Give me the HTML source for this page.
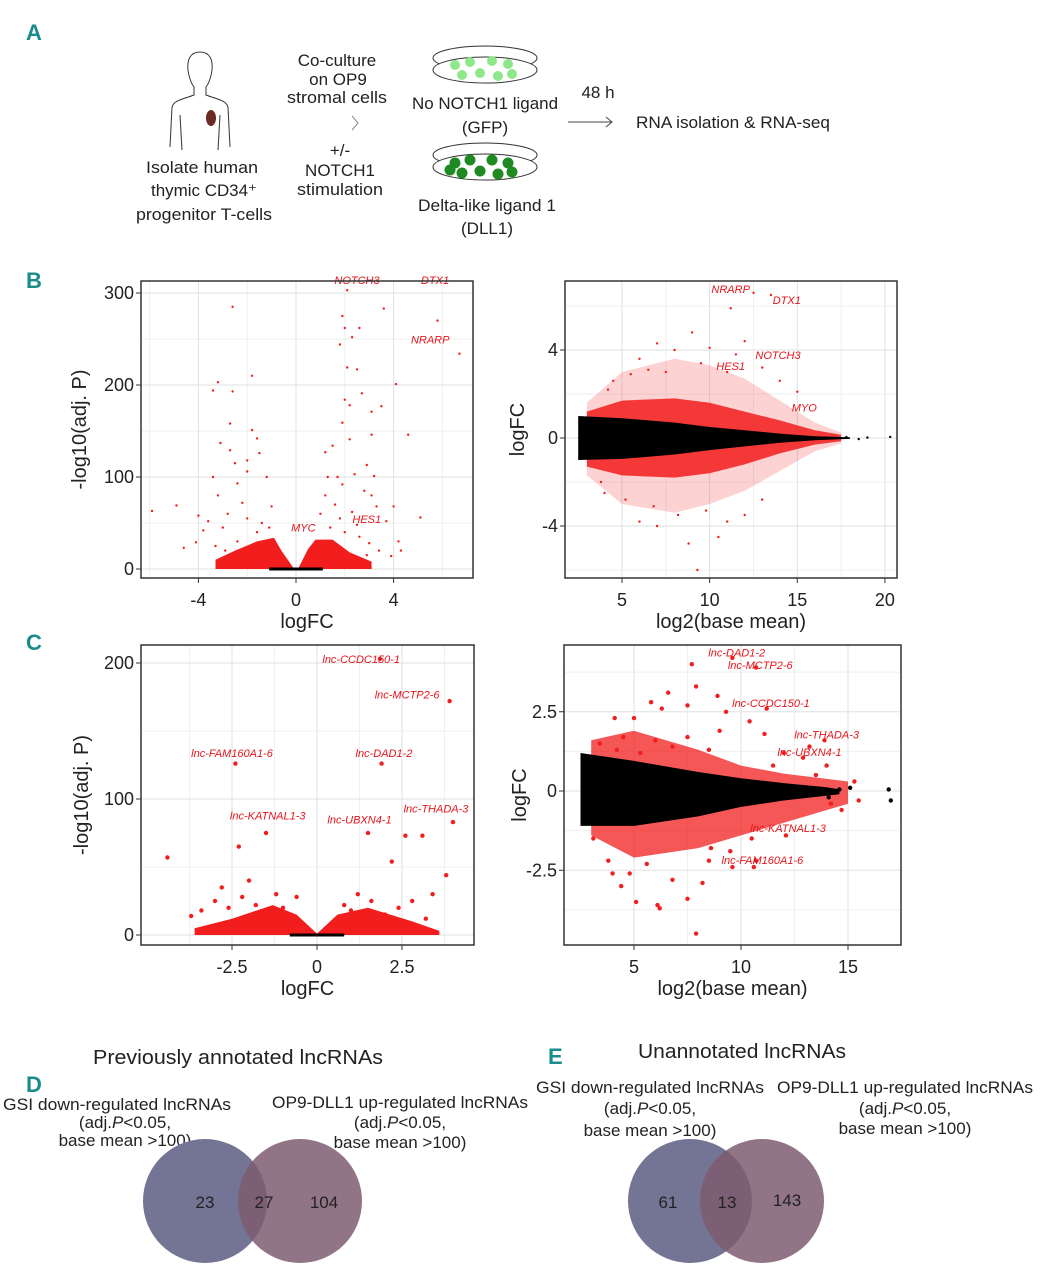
<!DOCTYPE html>
<html><head><meta charset="utf-8">
<style>
body{margin:0;background:#fff;}
svg{display:block;font-family:"Liberation Sans Narrow","Liberation Sans",sans-serif;}
.pl{fill:#1a8c8c;font-weight:bold;font-size:22px;font-family:"Liberation Sans Narrow","Liberation Sans",sans-serif;}
.t{font-size:17px;fill:#222;}
.tk{font-size:18px;fill:#222;}
.ax{font-size:20px;fill:#222;}
.gl{font-size:11px;fill:#e8141c;font-style:italic;}
</style></head>
<body>
<svg id="fig" width="1042" height="1280" viewBox="0 0 1042 1280" xmlns="http://www.w3.org/2000/svg">
<text class="pl" x="26" y="40">A</text>
<text class="pl" x="26" y="288">B</text>
<text class="pl" x="26" y="650">C</text>
<text class="pl" x="26" y="1092">D</text>
<text class="pl" x="548" y="1064">E</text>

<!-- Panel A schematic -->
<g fill="none" stroke="#333" stroke-width="1">
<path d="M200,52 c-10,0 -13,8 -12,18 c1,8 3,13 6,17 l0,8 c-10,4 -20,5 -22,12 l-2,40 M200,52 c10,0 13,8 12,18 c-1,8 -3,13 -6,17 l0,8 c10,4 20,5 22,12 l2,40"/>
<path d="M180,115 l2,35 M220,115 l-2,35"/>
</g>
<ellipse cx="211" cy="118" rx="5" ry="8" fill="#6b2a22"/>
<g class="t" text-anchor="middle">
<text x="202" y="173" textLength="112" lengthAdjust="spacingAndGlyphs">Isolate human</text><text x="204" y="196" textLength="106" lengthAdjust="spacingAndGlyphs">thymic CD34⁺</text><text x="204" y="220" textLength="136" lengthAdjust="spacingAndGlyphs">progenitor T-cells</text></g>
<g class="t" text-anchor="middle">
<text x="337" y="66">Co-culture</text><text x="338" y="85">on OP9</text><text x="337" y="103" textLength="100" lengthAdjust="spacingAndGlyphs">stromal cells</text>
<text x="340" y="156">+/-</text><text x="340" y="176">NOTCH1</text><text x="340" y="195" textLength="86" lengthAdjust="spacingAndGlyphs">stimulation</text></g>
<path d="M352,116 l6,7 l-6,7" fill="none" stroke="#888"/>
<g>
<ellipse cx="485" cy="58" rx="52" ry="12" fill="none" stroke="#333"/>
<ellipse cx="485" cy="70" rx="52" ry="13" fill="#fff" stroke="#333"/>
<g fill="#8ee88a"><circle cx="455" cy="65" r="5"/><circle cx="470" cy="62" r="5"/><circle cx="492" cy="61" r="5"/><circle cx="508" cy="64" r="5"/><circle cx="462" cy="75" r="5"/><circle cx="480" cy="73" r="5"/><circle cx="498" cy="76" r="5"/><circle cx="512" cy="74" r="5"/></g></g>
<g>
<ellipse cx="485" cy="155" rx="52" ry="12" fill="none" stroke="#333"/>
<ellipse cx="485" cy="167" rx="52" ry="13" fill="#fff" stroke="#333"/>
<g fill="#1f8a22"><circle cx="455" cy="163" r="5.5"/><circle cx="470" cy="160" r="5.5"/><circle cx="492" cy="160" r="5.5"/><circle cx="508" cy="163" r="5.5"/><circle cx="462" cy="173" r="5.5"/><circle cx="480" cy="171" r="5.5"/><circle cx="498" cy="174" r="5.5"/><circle cx="512" cy="172" r="5.5"/><circle cx="450" cy="170" r="5.5"/></g></g>
<g class="t" text-anchor="middle">
<text x="485" y="109" textLength="146" lengthAdjust="spacingAndGlyphs">No NOTCH1 ligand</text><text x="485" y="133">(GFP)</text>
<text x="487" y="211" textLength="138" lengthAdjust="spacingAndGlyphs">Delta-like ligand 1</text><text x="487" y="234">(DLL1)</text></g>
<text class="t" x="598" y="98" text-anchor="middle">48 h</text>
<path d="M568,122 h44 m-6,-5 l6,5 l-6,5" fill="none" stroke="#444"/>
<text class="t" x="636" y="128" textLength="194" lengthAdjust="spacingAndGlyphs">RNA isolation &amp; RNA-seq</text>

<g id="plots"></g>

<!-- Venn D -->
<text class="ax" x="238" y="1064" text-anchor="middle" textLength="290" lengthAdjust="spacingAndGlyphs">Previously annotated lncRNAs</text>
<g class="t" text-anchor="middle"><text x="117" y="1110" textLength="228" lengthAdjust="spacingAndGlyphs">GSI down-regulated lncRNAs</text><text x="125" y="1128">(adj.<tspan font-style="italic">P</tspan>&lt;0.05,</text><text x="125" y="1146">base mean &gt;100)</text></g>
<g class="t" text-anchor="middle"><text x="400" y="1108" textLength="256" lengthAdjust="spacingAndGlyphs">OP9-DLL1 up-regulated lncRNAs</text><text x="400" y="1128">(adj.<tspan font-style="italic">P</tspan>&lt;0.05,</text><text x="400" y="1148">base mean &gt;100)</text></g>
<circle cx="205" cy="1201" r="62" fill="#747495"/>
<circle cx="300" cy="1201" r="62" fill="#7e5c70" opacity="0.85"/>
<g class="t" text-anchor="middle"><text x="205" y="1208">23</text><text x="264" y="1208">27</text><text x="324" y="1208">104</text></g>

<!-- Venn E -->
<text class="ax" x="742" y="1058" text-anchor="middle" textLength="208" lengthAdjust="spacingAndGlyphs">Unannotated lncRNAs</text>
<g class="t" text-anchor="middle"><text x="650" y="1093" textLength="228" lengthAdjust="spacingAndGlyphs">GSI down-regulated lncRNAs</text><text x="650" y="1114">(adj.<tspan font-style="italic">P</tspan>&lt;0.05,</text><text x="650" y="1136">base mean &gt;100)</text></g>
<g class="t" text-anchor="middle"><text x="905" y="1093" textLength="256" lengthAdjust="spacingAndGlyphs">OP9-DLL1 up-regulated lncRNAs</text><text x="905" y="1114">(adj.<tspan font-style="italic">P</tspan>&lt;0.05,</text><text x="905" y="1134">base mean &gt;100)</text></g>
<circle cx="690" cy="1201" r="62" fill="#747495"/>
<circle cx="762" cy="1201" r="62" fill="#7e5c70" opacity="0.85"/>
<g class="t" text-anchor="middle"><text x="668" y="1208">61</text><text x="727" y="1208">13</text><text x="787" y="1206">143</text></g>
</svg>
<script>
// ---- Panel B left (volcano, all genes)
const bvDotsUp = [[2.1,303],[3.6,283],[5.8,270],[6.7,234],[1.9,275],[2.0,262],[2.6,262],[2.3,252],[1.8,244],[2.1,219],[2.5,217],[2.7,191],[4.1,201],[2.0,184],[2.2,178],[3.5,177],[3.1,171],[1.9,159],[4.6,146],[3.1,146],[2.2,141],[1.5,134],[1.2,127],[2.9,113],[3.2,101],[1.3,100],[1.7,100],[2.4,103],[5.1,56],[4.0,68],[4.2,30],[3.9,14],[4.3,20],[2.8,85],[3.1,80],[1.9,92],[1.6,70],[2.3,62],[3.3,68],[3.7,52],[1.0,60],[1.4,45],[2.0,40],[2.6,35],[3.0,28],[1.2,80],[2.5,48],[1.8,55],[3.4,20],[2.9,15]];
const bvDotsDown = [[-5.9,63],[-4.9,69],[-4.0,58],[-4.6,23],[-4.1,29],[-2.6,285],[-3.2,203],[-3.4,194],[-1.8,210],[-2.6,193],[-2.7,158],[-1.8,151],[-3.1,137],[-1.6,142],[-2.7,129],[-1.5,126],[-2.5,115],[-2.0,118],[-2.0,106],[-3.4,100],[-1.2,100],[-3.2,80],[-2.4,93],[-1.0,68],[-3.6,52],[-3.0,45],[-2.2,72],[-1.4,50],[-3.8,42],[-2.8,60],[-1.6,40],[-2.4,30],[-3.3,25],[-1.1,45],[-2.0,55],[-2.9,20]];
const bvCloud = [[-3.3,0],[-3.3,10],[-2.5,20],[-1.6,30],[-0.9,34],[-0.6,20],[-0.1,1],[0.1,1],[0.5,22],[0.8,32],[1.5,32],[2.2,18],[3.1,8],[3.1,0]];
const bvBlack = [[-1.1,0],[1.1,0]];
const bvLabels = ["NOTCH3","DTX1","NRARP","HES1","MYC"];
const bvLabelPos = [[2.5,310],[5.7,310],[5.5,245],[2.9,50],[0.3,41]];
// ---- Panel B right (MA, all genes)
const bmRedOuter = [[3,1.6],[5,3.0],[8,3.6],[10,3.3],[12,2.7],[14,1.7],[16,0.7],[17.5,0.25],[17.5,-0.25],[16,-0.6],[14,-1.5],[12,-2.4],[10,-3.0],[8,-3.4],[5,-3.0],[3,-1.7]];
const bmRedInner = [[3,1.2],[5,1.7],[8,1.8],[10,1.6],[12,1.2],[14,0.8],[16,0.35],[17.5,0.15],[17.5,-0.15],[16,-0.3],[14,-0.7],[12,-1.2],[10,-1.6],[8,-1.8],[5,-1.7],[3,-1.3]];
const bmBlack = [[2.5,1.0],[5,0.9],[8,0.7],[10,0.5],[12,0.35],[14,0.2],[16,0.08],[18,0.03],[18,-0.04],[16,-0.1],[14,-0.22],[12,-0.38],[10,-0.55],[8,-0.75],[5,-0.95],[2.5,-1.0]];
const bmDots = [[12.5,6.6],[13.5,6.5],[11.2,5.9],[9,4.8],[7,4.3],[13,3.2],[11.5,3.8],[14,2.6],[10,4.1],[8,4.0],[6,3.6],[12,4.4],[15,2.1],[8.8,-4.8],[10.5,-4.5],[9.3,-6.0],[6,-3.8],[12,-3.5],[7,-4.0],[11,-3.8],[13,-2.8],[4,-2.5],[4.5,2.6],[5.5,2.9],[6.5,3.1],[9.5,3.4],[7.5,3.0],[4.2,2.2],[11,3.0],[6.8,-3.1],[8.2,-3.5],[5.2,-2.8],[9.8,-3.3],[3.8,-2.0]];
const bmBlackDots = [[19,0.02],[20.3,0.05],[18.5,-0.05],[17.8,0.04]];
const bmLabels = ["NRARP","DTX1","NOTCH3","HES1","MYO"];
const bmLabelPos = [[11.2,6.6],[14.4,6.1],[13.9,3.6],[11.2,3.1],[15.4,1.2]];
// ---- Panel C left (volcano, lncRNAs)
const cvDots = [[1.85,203],[3.9,172],[-2.4,126],[1.9,126],[-1.5,75],[1.5,75],[2.6,73],[3.1,73],[4.0,83],[-4.4,57],[-2.3,65],[2.2,54],[3.8,44],[-3.0,25],[-3.4,18],[3.4,30],[-2.0,40],[-1.2,30],[1.2,30],[-2.8,35],[2.8,25],[0.8,22],[-0.6,28],[-1.8,22],[-2.6,20],[-1.0,20],[1.0,18],[2.0,15],[-3.7,14],[3.2,12],[-1.5,15],[1.6,25],[-2.2,28],[2.4,20]];
const cvCloud = [[-3.6,0],[-3.6,5],[-2.5,12],[-1.3,22],[-0.6,15],[0,1],[0.6,15],[1.5,20],[2.8,10],[3.6,3],[3.6,0]];
const cvBlack = [[-0.8,0],[0.8,0]];
const cvLabels = ["lnc-CCDC150-1","lnc-MCTP2-6","lnc-FAM160A1-6","lnc-DAD1-2","lnc-KATNAL1-3","lnc-UBXN4-1","lnc-THADA-3"];
const cvLabelPos = [[1.3,200],[2.65,174],[-2.5,131],[1.97,131],[-1.45,85],[1.25,82],[3.5,90]];
// ---- Panel C right (MA, lncRNAs)
const cmRedOuter = [[3,1.6],[5,1.9],[8,1.3],[10,0.8],[12,0.55],[15,0.3],[15,-0.4],[12,-1.0],[10,-1.4],[8,-1.8],[5,-2.1],[3,-1.4]];
const cmBlack = [[2.5,1.2],[5,0.95],[8,0.6],[10,0.4],[12,0.25],[14,0.12],[14.6,0.05],[14.6,-0.1],[12,-0.3],[10,-0.5],[8,-0.8],[5,-1.1],[2.5,-1.1]];
const cmDots = [[9.6,4.2],[7.7,4.0],[10.7,3.9],[7.9,3.3],[6.6,3.1],[8.9,3.0],[11.2,2.6],[5.8,2.8],[6.3,2.6],[7.5,2.7],[9.3,2.5],[4.1,2.3],[5,2.3],[10.4,2.2],[9.0,1.9],[11.1,1.8],[13.9,1.6],[13.2,1.4],[12.9,1.05],[7.5,1.7],[6.0,1.6],[3.4,1.5],[4.5,1.7],[12,1.2],[8.5,1.3],[11.5,0.8],[13.5,0.5],[14,0.8],[15.3,0.3],[14.7,-0.6],[15.5,-0.3],[14.2,-0.4],[12.1,-1.4],[10.5,-1.5],[10.7,-2.2],[10.6,-2.4],[9.6,-2.4],[8.5,-2.2],[8.2,-2.9],[7.9,-4.5],[6.2,-3.7],[6.1,-3.6],[4.4,-3.0],[4.8,-2.6],[5.1,-3.5],[4.0,-2.6],[3.8,-2.2],[7.5,-3.4],[8.6,-1.8],[5.6,-2.3],[3.1,-1.5],[6.8,-2.8],[4.2,1.3],[6.8,1.4],[9.5,-1.9],[5.3,1.2]];
const cmBlackDots = [[16.9,0.05],[17,-0.3],[15.1,0.1],[14.6,0.05],[14.1,-0.2]];
const cmLabels = ["lnc-DAD1-2","lnc-MCTP2-6","lnc-CCDC150-1","lnc-THADA-3","lnc-UBXN4-1","lnc-KATNAL1-3","lnc-FAM160A1-6"];
const cmLabelPos = [[9.8,4.25],[10.9,3.85],[11.4,2.65],[14.0,1.65],[13.2,1.1],[12.2,-1.3],[11.0,-2.3]];
// tick labels
const bvXTicks = [-4,0,4], bvYTicks = [0,100,200,300];
const bmXTicks = [5,10,15,20], bmYTicks = [-4,0,4];
const cvXTicks = [-2.5,0,2.5], cvYTicks = [0,100,200];
const cmXTicks = [5,10,15], cmYTicks = [-2.5,0,2.5];

const NS="http://www.w3.org/2000/svg";
const root=document.getElementById('plots');
function mk(tag,parent){const e=document.createElementNS(NS,tag);parent.appendChild(e);return e;}

function panel(name,box,sx,sy,xt,yt,minX,minY,xlab,ylab,ylabX){
  const g=mk('g',root);
  
  
  const bg=mk('rect',g);
  bg.setAttribute('x',box[0]);bg.setAttribute('y',box[1]);bg.setAttribute('width',box[2]-box[0]);bg.setAttribute('height',box[3]-box[1]);bg.setAttribute('fill','#fff');
  
  
  function grid(v,isX,col){
    const l=mk('line',g);
    if(isX){l.setAttribute('x1',sx(v));l.setAttribute('x2',sx(v));l.setAttribute('y1',box[1]);l.setAttribute('y2',box[3]);}
    else{l.setAttribute('y1',sy(v));l.setAttribute('y2',sy(v));l.setAttribute('x1',box[0]);l.setAttribute('x2',box[2]);}
    l.setAttribute('stroke',col);l.setAttribute('stroke-width','1');
    
    
  }
  minX.forEach(v=>grid(v,true,'#eef0f0'));minY.forEach(v=>grid(v,false,'#eef0f0'));
  xt.forEach(v=>grid(v,true,'#dde2e2'));yt.forEach(v=>grid(v,false,'#dde2e2'));
  xt.forEach(v=>{const t=mk('text',g);t.setAttribute('x',sx(v));t.setAttribute('y',box[3]+28);t.setAttribute('text-anchor','middle');t.setAttribute('class','tk');t.textContent=String(v);
    
    
    const k=mk('line',g);k.setAttribute('x1',sx(v));k.setAttribute('x2',sx(v));k.setAttribute('y1',box[3]);k.setAttribute('y2',box[3]+5);k.setAttribute('stroke','#333');
    
    });
  yt.forEach(v=>{const t=mk('text',g);t.setAttribute('x',box[0]-7);t.setAttribute('y',sy(v)+6);t.setAttribute('text-anchor','end');t.setAttribute('class','tk');t.textContent=String(v);
    
    
    const k=mk('line',g);k.setAttribute('x1',box[0]-5);k.setAttribute('x2',box[0]);k.setAttribute('y1',sy(v));k.setAttribute('y2',sy(v));k.setAttribute('stroke','#333');
    
    });
  const xl=mk('text',g);xl.setAttribute('x',(box[0]+box[2])/2);xl.setAttribute('y',box[3]+50);xl.setAttribute('text-anchor','middle');xl.setAttribute('class','ax');xl.textContent=xlab;
  
  
  const yl=mk('text',g);const cy=(box[1]+box[3])/2;yl.setAttribute('x',ylabX);yl.setAttribute('y',cy);yl.setAttribute('text-anchor','middle');yl.setAttribute('class','ax');yl.setAttribute('transform','rotate(-90 '+ylabX+' '+cy+')');yl.textContent=ylab;
  
  
  return g;
}
function poly(g,pts,sx,sy,fill,op,name){
  const p=mk('polygon',g);p.setAttribute('points',pts.map(d=>sx(d[0]).toFixed(1)+','+sy(d[1]).toFixed(1)).join(' '));
  p.setAttribute('fill',fill);p.setAttribute('opacity',op);
  
  
}
function seg(g,pts,sx,sy,name){
  const l=mk('line',g);l.setAttribute('x1',sx(pts[0][0]));l.setAttribute('y1',sy(pts[0][1]));l.setAttribute('x2',sx(pts[1][0]));l.setAttribute('y2',sy(pts[1][1]));
  l.setAttribute('stroke','#000');l.setAttribute('stroke-width','3');
  
  
}
function dots(g,pts,sx,sy,r,col){
  pts.forEach(d=>{const c=mk('circle',g);c.setAttribute('cx',sx(d[0]).toFixed(1));c.setAttribute('cy',sy(d[1]).toFixed(1));c.setAttribute('r',r);c.setAttribute('fill',col);
    
    });
}
function labels(g,names,pos,sx,sy){
  names.forEach((n,i)=>{const t=mk('text',g);t.setAttribute('x',sx(pos[i][0]));t.setAttribute('y',sy(pos[i][1]));t.setAttribute('class','gl');t.setAttribute('text-anchor','middle');t.textContent=n;
    
    });
}
function frame(g,box){
  const r=mk('rect',g);r.setAttribute('x',box[0]);r.setAttribute('y',box[1]);r.setAttribute('width',box[2]-box[0]);r.setAttribute('height',box[3]-box[1]);r.setAttribute('fill','none');r.setAttribute('stroke','#333');r.setAttribute('stroke-width','1.5');
  
  
}

// B left
{const box=[141,281,473,578];const sx=v=>296+24.4*v, sy=v=>569-0.92*v;
 const g=panel('volcano-all-genes',box,sx,sy,bvXTicks,bvYTicks,[-6,-2,2,6],[50,150,250],'logFC','-log10(adj. P)',86);
 poly(g,bvCloud,sx,sy,'#f21d1d',1,'dense-cloud');dots(g,bvDotsUp,sx,sy,1.2,'#f21d1d');dots(g,bvDotsDown,sx,sy,1.2,'#f21d1d');seg(g,bvBlack,sx,sy,'nonsig-points');
 labels(g,bvLabels,bvLabelPos,sx,sy);frame(g,box);}
// B right
{const box=[565,281,897,578];const sx=v=>622+17.53*(v-5), sy=v=>438-22*v;
 const g=panel('ma-plot-all-genes',box,sx,sy,bmXTicks,bmYTicks,[7.5,12.5,17.5],[-6,-2,2,6],'log2(base mean)','logFC',524);
 poly(g,bmRedOuter,sx,sy,'#f21d1d',0.2,'sig-cloud-outer');poly(g,bmRedInner,sx,sy,'#f21d1d',0.85,'sig-cloud-inner');poly(g,bmBlack,sx,sy,'#000',1,'nonsig-cloud');
 dots(g,bmDots,sx,sy,1.2,'#f21d1d');dots(g,bmBlackDots,sx,sy,1.2,'#000');labels(g,bmLabels,bmLabelPos,sx,sy);frame(g,box);}
// C left
{const box=[141,645,474,945];const sx=v=>317+34*v, sy=v=>935-1.36*v;
 const g=panel('volcano-lncrna',box,sx,sy,cvXTicks,cvYTicks,[-3.75,-1.25,1.25,3.75],[50,150],'logFC','-log10(adj. P)',88);
 poly(g,cvCloud,sx,sy,'#f21d1d',1,'dense-cloud');dots(g,cvDots,sx,sy,2.2,'#f21d1d');seg(g,cvBlack,sx,sy,'nonsig-points');
 labels(g,cvLabels,cvLabelPos,sx,sy);frame(g,box);}
// C right
{const box=[564,645,901,945];const sx=v=>634+21.4*(v-5), sy=v=>791-31.7*v;
 const g=panel('ma-plot-lncrna',box,sx,sy,cmXTicks,cmYTicks,[7.5,12.5],[-3.75,-1.25,1.25,3.75],'log2(base mean)','logFC',526);
 poly(g,cmRedOuter,sx,sy,'#f21d1d',0.75,'sig-cloud');poly(g,cmBlack,sx,sy,'#000',1,'nonsig-cloud');
 dots(g,cmDots,sx,sy,2.2,'#f21d1d');dots(g,cmBlackDots,sx,sy,2.2,'#000');labels(g,cmLabels,cmLabelPos,sx,sy);frame(g,box);}
</script>
</body></html>
